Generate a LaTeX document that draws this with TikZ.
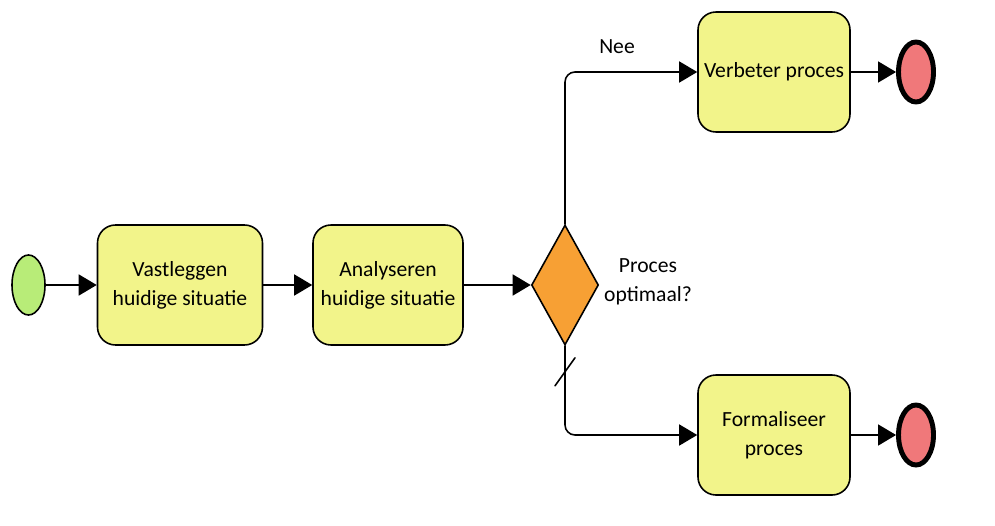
\documentclass[tikz,border=0pt]{standalone}
\usepackage{fontspec}
\setmainfont{Carlito}
\usetikzlibrary{shapes.geometric,arrows.meta,calc}
\definecolor{taakgeel}{RGB}{242,244,138}
\definecolor{startgroen}{RGB}{184,236,120}
\definecolor{eindrood}{RGB}{240,120,122}
\definecolor{beslisoranje}{RGB}{247,160,52}

\begin{document}
\begin{tikzpicture}[line cap=round,
    taak/.style={draw, line width=0.9pt, rounded corners=0.36cm, fill=taakgeel,
      minimum height=2.4cm, align=center, font=\fontsize{12.3}{16.6}\selectfont},
    stroom/.style={line width=0.9pt, -{Triangle[length=0.36cm, width=0.42cm]}},
    tekst/.style={align=center, font=\fontsize{12.3}{16.6}\selectfont}]
  \useasboundingbox (0,0) rectangle (19.9,10.5);

  % begin en eind
  \node[draw, ellipse, line width=0.9pt, fill=startgroen, minimum width=0.66cm,
    minimum height=1.2cm, inner sep=0] (start) at (0.57,4.8) {};
  \node[draw, ellipse, line width=2.8pt, fill=eindrood, minimum width=0.7cm,
    minimum height=1.2cm, inner sep=0] (eindA) at (18.32,9.06) {};
  \node[draw, ellipse, line width=2.8pt, fill=eindrood, minimum width=0.7cm,
    minimum height=1.2cm, inner sep=0] (eindB) at (18.32,1.8) {};

  % taken
  \node[taak, minimum width=3.3cm] (vast) at (3.6,4.8) {Vastleggen\\huidige situatie};
  \node[taak, minimum width=3.0cm] (anal) at (7.76,4.8) {Analyseren\\huidige situatie};
  \node[taak, minimum width=3.04cm] (verb) at (15.48,9.06) {Verbeter proces};
  \node[taak, minimum width=3.04cm] (form) at (15.48,1.8) {Formaliseer\\proces};

  % beslissing
  \node[draw, diamond, line width=0.9pt, fill=beslisoranje, minimum width=1.34cm,
    minimum height=2.4cm, inner sep=0] (besl) at (11.3,4.8) {};
  \node[tekst] (vraag) at (12.96,4.86) {Proces\\optimaal?};

  % stromen
  \draw[stroom] (start) -- (vast);
  \draw[stroom] (vast) -- (anal);
  \draw[stroom] (anal) -- (besl);
  \draw[stroom, rounded corners=0.2cm] (besl.north) |- (verb.west);
  \draw[stroom, rounded corners=0.2cm] (besl.south) |- (form.west);
  \draw[stroom] (verb) -- (eindA);
  \draw[stroom] (form) -- (eindB);

  % standaardstroom
  \draw[line width=0.9pt] ($(besl.south)+(-0.2,-0.8)$) -- ($(besl.south)+(0.2,-0.24)$);

  % label
  \node[tekst] (nee) at (12.34,9.56) {Nee};
\end{tikzpicture}
\end{document}
